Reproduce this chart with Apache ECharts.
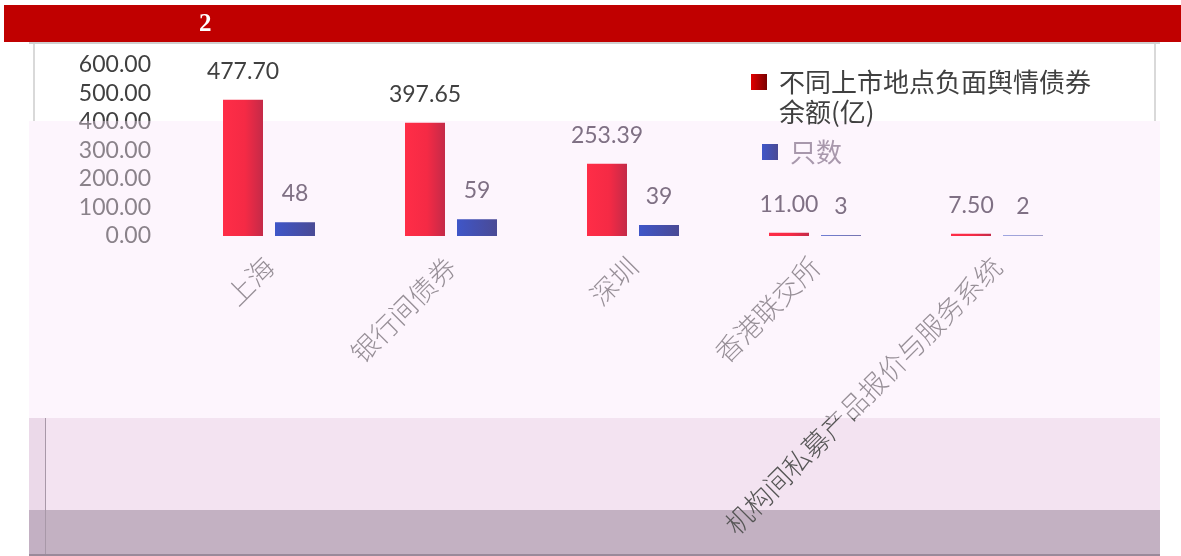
<!DOCTYPE html>
<html>
<head>
<meta charset="utf-8">
<title>不同上市地点负面舆情债券</title>
<script src="https://cdn.jsdelivr.net/npm/echarts@6/dist/echarts.min.js"></script>
<style>
  html, body { margin: 0; padding: 0; background: #fff; }
  #chart { width: 1181px; height: 556px; }
</style>
</head>
<body>
<div id="chart"></div>
<script>
// 上市地点
const categories = ["上海", "银行间债券", "深圳", "香港联交所", "机构间私募产品报价与服务系统"];
// 负面舆情债券余额(亿)
const balance = [477.70, 397.65, 253.39, 11.00, 7.50];
// 只数
const counts = [48, 59, 39, 3, 2];
const seriesNames = ["不同上市地点负面舆情债券余额(亿)", "只数"];
const yMin = 0;
const yMax = 600;
const yStep = 100;

const GRID_TOP = 65;
const GRID_BOTTOM = 320;
const PLOT_H = 556 - GRID_TOP - GRID_BOTTOM;
const VEIL_TOP = 121;

// 标签在蒙层上方用深色，否则用浅紫灰
const labelRich = {
  dark: { color: "#404040", fontSize: 23, fontFamily: "Lato" },
  light: { color: "#7f7084", fontSize: 23, fontFamily: "Lato" },
};
const valueY = (v) => GRID_TOP + (1 - v / yMax) * PLOT_H - 30;
const labelFmt = (digits) => (p) => {
  const key = valueY(p.value) < VEIL_TOP ? "dark" : "light";
  return "{" + key + "|" + p.value.toFixed(digits) + "}";
};

const redIcon = {
  type: "linear", x: 0, y: 0, x2: 1, y2: 0,
  colorStops: [
    { offset: 0, color: "#e00000" },
    { offset: 1, color: "#7a0000" },
  ],
};
const blueFill = {
  type: "linear", x: 0, y: 0, x2: 1, y2: 0,
  colorStops: [
    { offset: 0, color: "#3f56c8" },
    { offset: 1, color: "#4a4a95" },
  ],
};

const legendBase = {
  orient: "vertical",
  itemWidth: 16,
  itemHeight: 16,
  icon: "rect",
};

const option = {
  backgroundColor: "#ffffff",
  animation: false,
  grid: { left: 178, right: 93, top: GRID_TOP, bottom: GRID_BOTTOM },
  legend: [
    {
      ...legendBase,
      left: 746,
      top: 32,
      data: [{ name: seriesNames[0], itemStyle: { color: redIcon } }],
      // 前面空一行，让图标与第一行文字对齐
      formatter: (name) => "\u00a0\n" + name.replace("债券余额", "债券\n余额"),
      textStyle: {
        fontSize: 26,
        lineHeight: 30,
        fontFamily: "Noto Sans CJK SC",
        color: "#404040",
        padding: [0, 0, 0, 7],
      },
    },
    {
      ...legendBase,
      left: 757,
      top: 132,
      data: [{ name: seriesNames[1], itemStyle: { color: blueFill } }],
      textStyle: {
        fontSize: 26,
        lineHeight: 30,
        fontFamily: "Noto Sans CJK SC",
        color: "#a898ac",
        padding: [0, 0, 0, 7],
      },
    },
  ],
  xAxis: {
    type: "category",
    data: categories,
    axisLine: { show: false },
    axisTick: { show: false },
    axisLabel: {
      rotate: 45,
      margin: 26,
      interval: 0,
      fontSize: 27,
      fontWeight: 300,
      fontFamily: "Noto Sans CJK SC",
      color: "#555555",
    },
  },
  yAxis: {
    type: "value",
    min: yMin,
    max: yMax,
    interval: yStep,
    splitLine: { show: false },
    axisLine: { show: false },
    axisTick: { show: false },
    axisLabel: {
      margin: 27,
      fontSize: 23,
      fontFamily: "Lato",
      color: "#404040",
      formatter: (v) => v.toFixed(2),
    },
  },
  series: [
    {
      name: seriesNames[0],
      type: "bar",
      z: 2,
      barWidth: 40,
      barGap: "30%",
      data: balance,
      itemStyle: {
        color: {
          type: "linear", x: 0, y: 0, x2: 1, y2: 0,
          colorStops: [
            { offset: 0, color: "#ff2d47" },
            { offset: 0.55, color: "#f52a45" },
            { offset: 1, color: "#c42a48" },
          ],
        },
      },
      label: {
        show: true,
        position: "top",
        distance: 17,
        formatter: labelFmt(2),
        rich: labelRich,
      },
    },
    {
      name: seriesNames[1],
      type: "bar",
      z: 2,
      barWidth: 40,
      data: counts,
      itemStyle: { color: blueFill },
      label: {
        show: true,
        position: "top",
        distance: 17,
        formatter: labelFmt(0),
        rich: labelRich,
      },
    },
  ],
  graphic: {
    elements: [
      // 顶部红色标题栏
      {
        type: "rect", z: 5,
        shape: { x: 4, y: 5, width: 1177, height: 37 },
        style: { fill: "#c00000" },
      },
      {
        type: "text", z: 6, left: 199, top: 12,
        style: {
          text: "2", fill: "#ffffff",
          font: "bold 25px 'Liberation Serif', 'DejaVu Serif', serif",
        },
      },
      // 白色面板边框
      {
        type: "rect", z: -1,
        shape: { x: 29, y: 42, width: 1131, height: 2 },
        style: { fill: "#cfcfcf" },
      },
      {
        type: "rect", z: -1,
        shape: { x: 33, y: 44, width: 2, height: 77 },
        style: { fill: "#d9d9d9" },
      },
      {
        type: "rect", z: -1,
        shape: { x: 1154, y: 44, width: 2, height: 77 },
        style: { fill: "#d9d9d9" },
      },
      // 半透明粉色蒙层
      {
        type: "rect", z: 1,
        shape: { x: 29, y: VEIL_TOP, width: 1131, height: 418 - VEIL_TOP },
        style: { fill: "rgba(250, 230, 250, 0.4)" },
      },
      // 下方色块
      {
        type: "rect", z: -1,
        shape: { x: 29, y: 418, width: 1131, height: 92 },
        style: { fill: "#f3e3f1" },
      },
      {
        type: "rect", z: -1,
        shape: { x: 29, y: 510, width: 1131, height: 46 },
        style: { fill: "#c3b1c2" },
      },
      {
        type: "rect", z: -1,
        shape: { x: 29, y: 418, width: 16, height: 138 },
        style: { fill: "rgba(200, 170, 200, 0.18)" },
      },
      {
        type: "rect", z: -1,
        shape: { x: 45, y: 418, width: 1, height: 138 },
        style: { fill: "#a898a8" },
      },
      {
        type: "rect", z: -1,
        shape: { x: 29, y: 554, width: 1131, height: 2 },
        style: { fill: "#9a8a9a" },
      },
    ],
  },
};

const chart = echarts.init(document.getElementById("chart"));
chart.setOption(option);
</script>
</body>
</html>
